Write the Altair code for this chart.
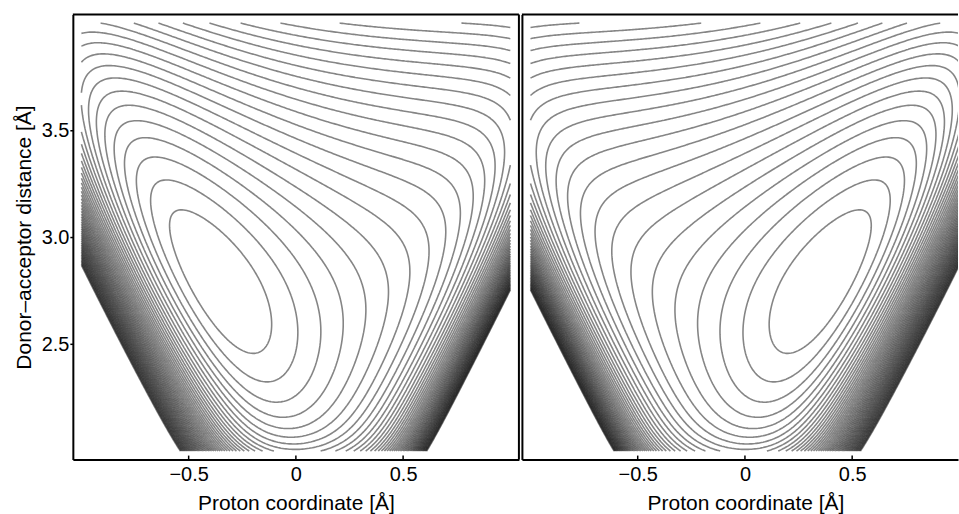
import numpy as np
import pandas as pd
import altair as alt

# ---- values ---------------------------------------------------------------
# model potential of the proton-transfer surface (energies in contour steps)
MORSE_DH = [8.5, 2.1, 1.03]          # depth, steepness [1/Å], D–H bond length [Å]
SPRING_DA = [8.8, 2.79]              # stiffness [1/Å²], equilibrium D···A distance [Å]
REPULSION_HA = [46.0, 8.0, 0.375]    # H···A repulsion: height at contact, decay [1/Å], contact [Å]
WALL_DA = [2.5, 12.0, 2.0]           # short-range D···A wall: height, decay [1/Å], reference [Å]
LEVELS = list(range(1, 54))          # contour levels: 1 … 53 steps above the minimum
X_EXTENT = [-1.0, 1.0]               # proton coordinate covered [Å]
R_EXTENT = [2.0, 4.0]                # donor–acceptor distance covered [Å]
X_TICKS = [-0.5, 0.0, 0.5]
Y_TICKS = [2.5, 3.0, 3.5]
X_TITLE = "Proton coordinate [Å]"
Y_TITLE = "Donor–acceptor distance [Å]"


def potential(x, R):
    u = x + R / 2.0          # donor–proton distance
    v = R / 2.0 - x          # proton–acceptor distance
    D, a, u0 = MORSE_DH
    k, Req = SPRING_DA
    B, b, v0 = REPULSION_HA
    C, c, R0 = WALL_DA
    return (D * (1 - np.exp(-a * (u - u0))) ** 2 + k * (R - Req) ** 2
            + B * np.exp(-b * (v - v0)) + C * np.exp(-c * (R - R0)))


def contour_paths(xs, ys, Z, level):
    above = Z > level
    A = above[:-1, :-1]; Bm = above[:-1, 1:]; Cm = above[1:, 1:]; Dm = above[1:, :-1]
    code = A.astype(int) + 2 * Bm + 4 * Cm + 8 * Dm
    js, iis = np.nonzero((code > 0) & (code < 15))
    adj = {}

    def add(k1, k2):
        adj.setdefault(k1, []).append(k2)
        adj.setdefault(k2, []).append(k1)

    for j, i in zip(js.tolist(), iis.tolist()):
        cd = code[j, i]
        kb = ('h', j, i); kt = ('h', j + 1, i); kl = ('v', j, i); kr = ('v', j, i + 1)
        if cd == 5 or cd == 10:
            center = (Z[j, i] + Z[j, i + 1] + Z[j + 1, i + 1] + Z[j + 1, i]) / 4 > level
            if (cd == 5) == bool(center):
                add(kb, kr); add(kt, kl)
            else:
                add(kb, kl); add(kr, kt)
        else:
            ks = []
            if A[j, i] != Bm[j, i]: ks.append(kb)
            if Bm[j, i] != Cm[j, i]: ks.append(kr)
            if Cm[j, i] != Dm[j, i]: ks.append(kt)
            if Dm[j, i] != A[j, i]: ks.append(kl)
            add(ks[0], ks[1])

    def pt(key):
        t, j, i = key
        if t == 'h':
            z0, z1 = Z[j, i], Z[j, i + 1]
            f = (level - z0) / (z1 - z0)
            return xs[i] + f * (xs[i + 1] - xs[i]), ys[j]
        z0, z1 = Z[j, i], Z[j + 1, i]
        f = (level - z0) / (z1 - z0)
        return xs[i], ys[j] + f * (ys[j + 1] - ys[j])

    visited = set()
    paths = []
    starts = [k for k, nb in adj.items() if len(nb) == 1] + list(adj.keys())
    for s in starts:
        if s in visited:
            continue
        path = [s]; visited.add(s); cur = s
        while True:
            nxt = [n for n in adj[cur] if n not in visited]
            if not nxt:
                if len(path) > 2 and s in adj[cur] and len(adj[s]) == 2:
                    path.append(s)
                break
            cur = nxt[0]; visited.add(cur); path.append(cur)
        paths.append([pt(k) for k in path])
    return paths


xs = np.linspace(X_EXTENT[0], X_EXTENT[1], 261)
ys = np.linspace(R_EXTENT[0], R_EXTENT[1], 261)
XX, RR = np.meshgrid(xs, ys)
Z = potential(XX, RR)
Z = Z - Z.min()

rows = []
pid = 0
for lev in LEVELS:
    for path in contour_paths(xs, ys, Z, lev):
        for n, (px, py) in enumerate(path):
            rows.append((round(float(px), 4), round(float(py), 4), pid, n))
        pid += 1
left_df = pd.DataFrame(rows, columns=["x", "y", "path", "i"])
right_df = left_df.copy()
right_df["x"] = -right_df["x"]          # mirror image: proton bound to the acceptor

# ---- chart -----------------------------------------------------------------
Y_DOMAIN = [1.96, 4.04]
H = 446
LABEL_EXPR = "datum.value == 0 ? '0' : (datum.value < 0 ? '\u2212' : '') + format(abs(datum.value), '.1f')"
border_df = pd.DataFrame({"k": [0]})
tick_df = pd.DataFrame({"x": X_TICKS})


def panel(df, xdom, width, left):
    xscale = alt.Scale(domain=xdom, nice=False, zero=False)
    yscale = alt.Scale(domain=Y_DOMAIN, nice=False, zero=False)
    xaxis_kw = dict(values=X_TICKS, labelExpr=LABEL_EXPR, title=X_TITLE, ticks=False,
                    labelPadding=5, titlePadding=8, domainWidth=2, domainColor="black",
                    grid=False, labelFlush=False)
    if not left:
        xaxis_kw["titleX"] = 224
    xaxis = alt.Axis(**xaxis_kw)
    if left:
        yaxis = alt.Axis(values=Y_TICKS, format=".1f", title=Y_TITLE, tickSize=3,
                         tickWidth=1.5, tickColor="black", labelPadding=1, titlePadding=5,
                         minExtent=33, maxExtent=33, domainWidth=2, domainColor="black",
                         grid=False)
    else:
        yaxis = alt.Axis(labels=False, ticks=False, title=None, domainWidth=2,
                         domainColor="black", minExtent=0, maxExtent=0, grid=False)
    lines = alt.Chart(df).mark_line(color="black", strokeWidth=1.6, opacity=0.48, clip=True).encode(
        x=alt.X("x:Q", scale=xscale, axis=xaxis),
        y=alt.Y("y:Q", scale=yscale, axis=yaxis),
        detail="path:N",
        order="i:Q",
    )
    ticks = alt.Chart(tick_df).mark_rule(color="black", strokeWidth=1.5).encode(
        x=alt.X("x:Q", scale=xscale, axis=xaxis),
        y=alt.value(H), y2=alt.value(H - 4),
    )
    top = alt.Chart(border_df).mark_rule(color="black", strokeWidth=2).encode(
        x=alt.value(0), x2=alt.value(width), y=alt.value(0))
    layers = [lines, ticks, top]
    if left:
        right_edge = alt.Chart(border_df).mark_rule(color="black", strokeWidth=2).encode(
            x=alt.value(width), y=alt.value(0), y2=alt.value(H))
        layers.append(right_edge)
    return alt.layer(*layers).properties(width=width, height=H)


left_panel = panel(left_df, [-1.04, 1.04], 447, True)
right_panel = panel(right_df, [-1.04, 0.9935], 437, False)

chart = alt.hconcat(left_panel, right_panel, spacing=1).properties(
    padding={"left": 14, "top": 13, "right": 0, "bottom": 0}
).configure_view(stroke=None).configure_axis(
    labelFont="Liberation Sans", titleFont="Liberation Sans",
    labelFontSize=20, titleFontSize=21, labelColor="black", titleColor="black",
    titleFontWeight="normal",
)

chart.save("out.html", embed_options={"renderer": "svg", "actions": False})
